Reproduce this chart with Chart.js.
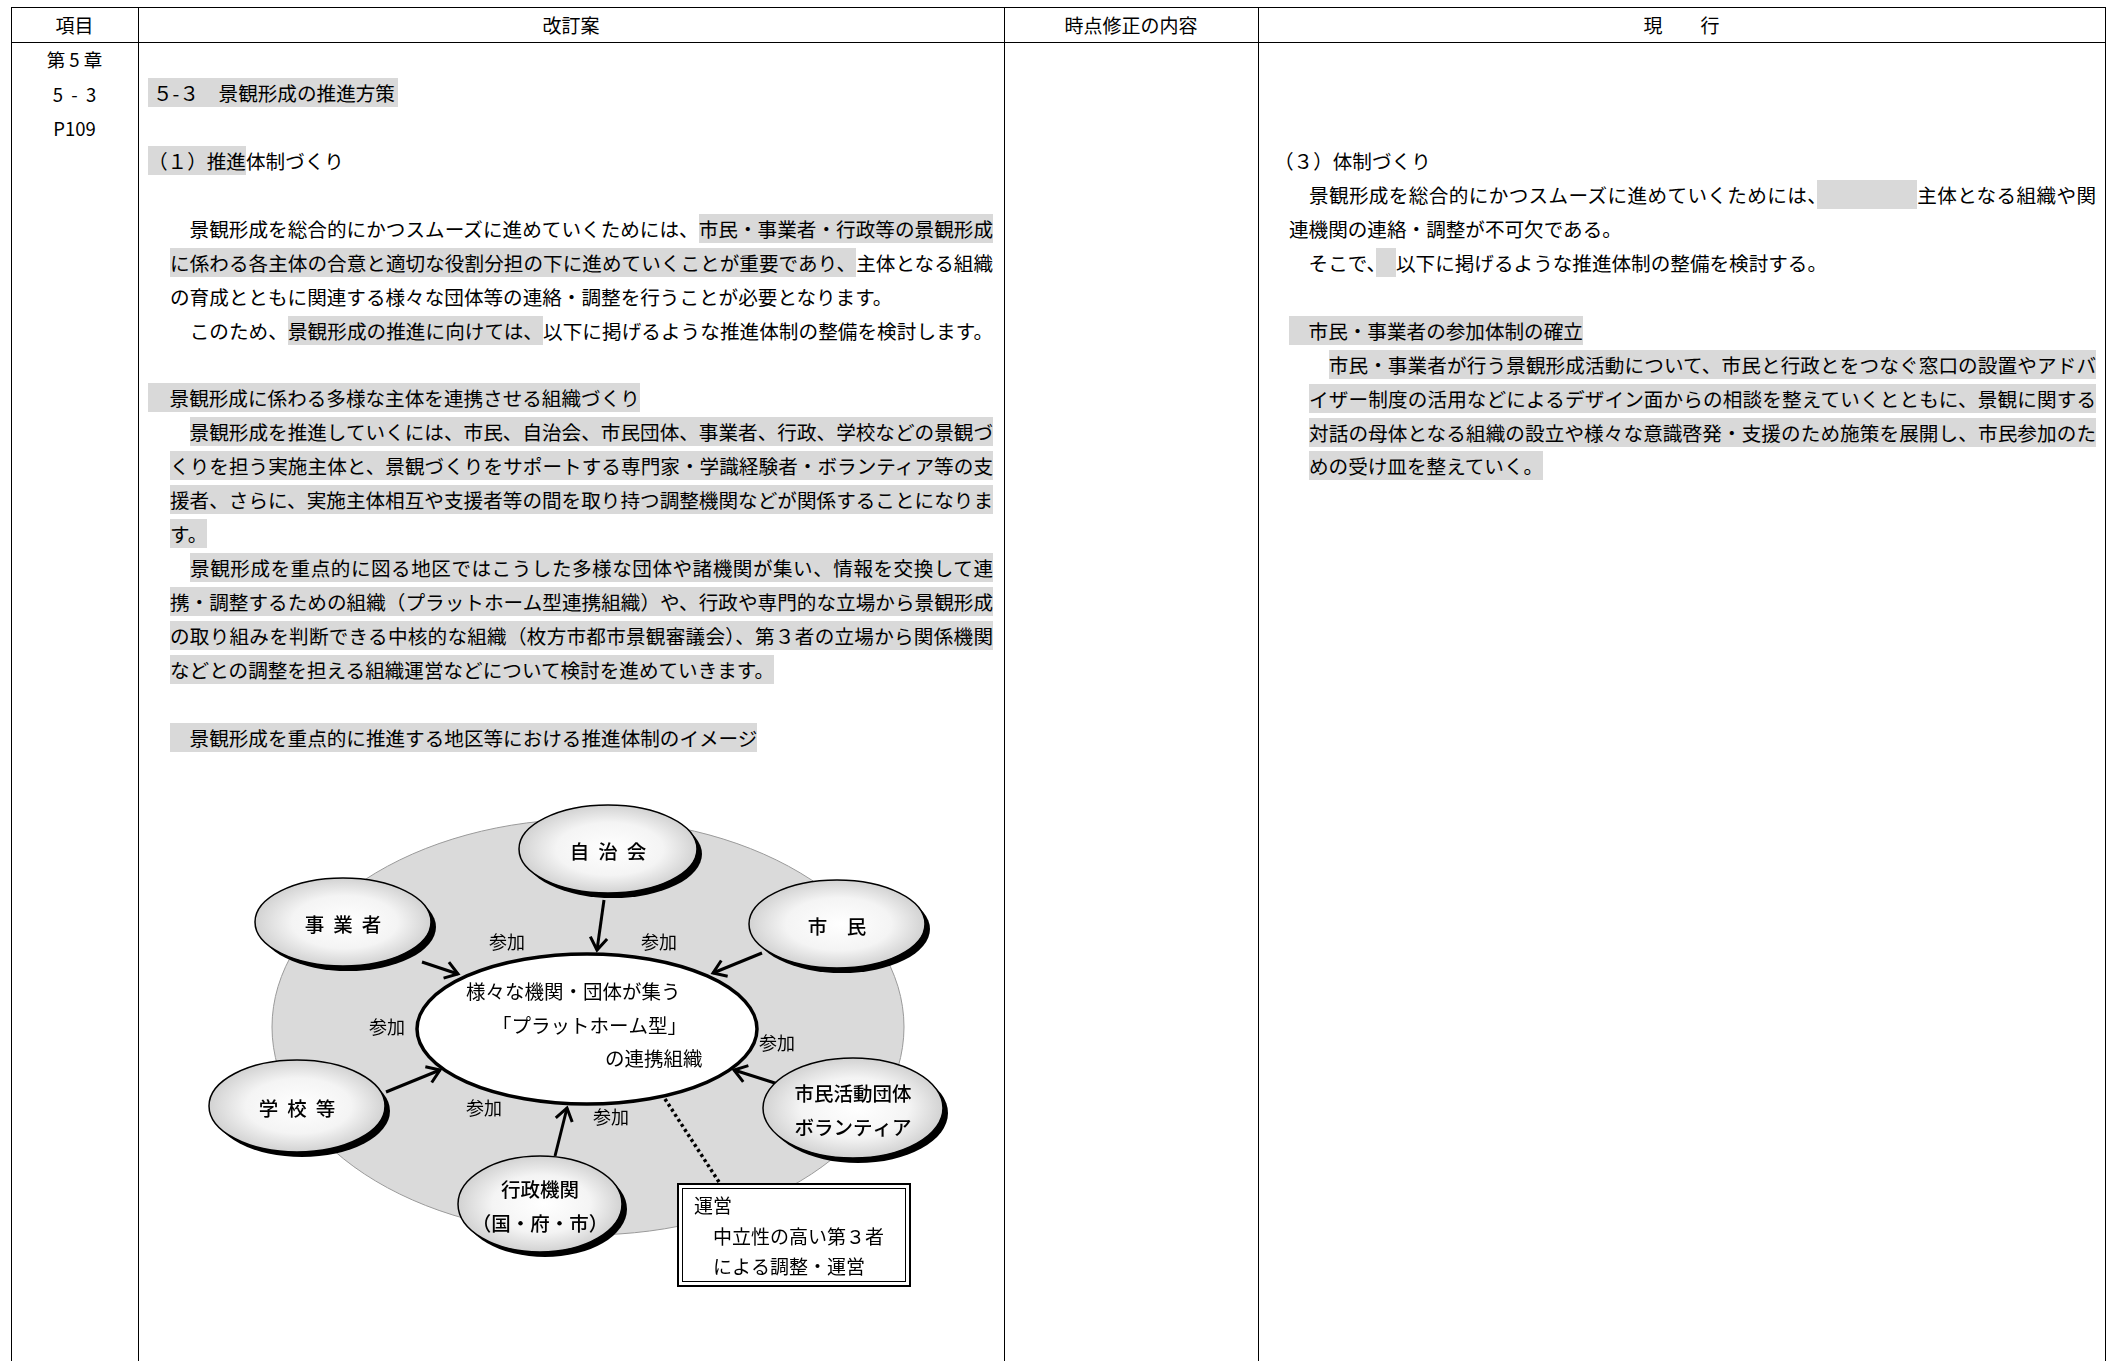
<!DOCTYPE html>
<html lang="ja">
  <head>
    <meta charset="UTF-8" />
    <title>景観形成の推進方策</title>
    <script src="https://cdn.jsdelivr.net/npm/chart.js"></script>
    <style>
      html,
      body {
        margin: 0;
        padding: 0;
        background: #fff;
      }

      body {
        position: relative;
        width: 2116px;
        height: 1361px;
        overflow: hidden;
        font-family: "Noto Sans CJK JP", sans-serif;
        color: #000;
      }

      .h { position: absolute; height: 1px; background: #000; left: 11px; width: 2095px; }
      .v { position: absolute; width: 1px; background: #000; top: 7px; bottom: 0; }

      .head {
        position: absolute;
        top: 8px;
        height: 34px;
        line-height: 34px;
        font-size: 19px;
        text-align: center;
      }

      .block {
        position: absolute;
        font-size: 19.6px;
        white-space: nowrap;
      }
      .block div { height: 33.95px; line-height: 33.95px; }
      .p { padding-left: 22px; }
      .q { padding-left: 15px; }
      .r { padding-left: 35px; }
      .j { text-align: justify; text-align-last: justify; }
      .m { background: #d9d9d9; }

      .item {
        position: absolute;
        left: 11px;
        width: 127px;
        top: 42px;
        font-size: 18.5px;
        text-align: center;
      }
      .item div { height: 34.5px; line-height: 34.5px; white-space: pre; }

      #diagram { position: absolute; left: 140px; top: 780px; }
    </style>
  </head>
  <body>
    <!-- 表の罫線 -->
    <div class="h" style="top: 7px"></div>
    <div class="h" style="top: 42px"></div>
    <div class="v" style="left: 11px"></div>
    <div class="v" style="left: 138px"></div>
    <div class="v" style="left: 1004px"></div>
    <div class="v" style="left: 1258px"></div>
    <div class="v" style="left: 2105px"></div>

    <div class="head" style="left: 11px; width: 127px">項目</div>
    <div class="head" style="left: 138px; width: 866px">改訂案</div>
    <div class="head" style="left: 1004px; width: 254px">時点修正の内容</div>
    <div class="head" style="left: 1258px; width: 847px">現　　行</div>

    <div class="item">
      <div>第 5 章</div>
      <div>5  -  3</div>
      <div>P109</div>
    </div>

    <!-- 改訂案 -->
    <div class="block" style="left: 148px; top: 76px; width: 845px">
      <div><span class="m" style="padding: 0 3px 0 5px">５-３　景観形成の推進方策</span></div>
      <div></div>
      <div><span class="m">（１）推進</span>体制づくり</div>
      <div></div>
      <div class="p j">　景観形成を総合的にかつスムーズに進めていくためには、<span class="m">市民・事業者・行政等の景観形成</span></div>
      <div class="p j"><span class="m">に係わる各主体の合意と適切な役割分担の下に進めていくことが重要であり、</span>主体となる組織</div>
      <div class="p">の育成とともに関連する様々な団体等の連絡・調整を行うことが必要となります。</div>
      <div class="p j">　このため、<span class="m">景観形成の推進に向けては、</span>以下に掲げるような推進体制の整備を検討します。</div>
      <div></div>
      <div><span class="m" style="padding-left: 2px">　景観形成に係わる多様な主体を連携させる組織づくり</span></div>
      <div class="p j">　<span class="m">景観形成を推進していくには、市民、自治会、市民団体、事業者、行政、学校などの景観づ</span></div>
      <div class="p j"><span class="m">くりを担う実施主体と、景観づくりをサポートする専門家・学識経験者・ボランティア等の支</span></div>
      <div class="p j"><span class="m">援者、さらに、実施主体相互や支援者等の間を取り持つ調整機関などが関係することになりま</span></div>
      <div class="p"><span class="m">す。</span></div>
      <div class="p j">　<span class="m">景観形成を重点的に図る地区ではこうした多様な団体や諸機関が集い、情報を交換して連</span></div>
      <div class="p j"><span class="m">携・調整するための組織（プラットホーム型連携組織）や、行政や専門的な立場から景観形成</span></div>
      <div class="p j"><span class="m">の取り組みを判断できる中核的な組織（枚方市都市景観審議会）、第３者の立場から関係機関</span></div>
      <div class="p"><span class="m">などとの調整を担える組織運営などについて検討を進めていきます。</span></div>
      <div></div>
      <div class="p"><span class="m">　景観形成を重点的に推進する地区等における推進体制のイメージ</span></div>
    </div>

    <!-- 現行 -->
    <div class="block" style="left: 1274px; top: 144px; width: 822px">
      <div>（３）体制づくり</div>
      <div class="q j">　景観形成を総合的にかつスムーズに進めていくためには、<span class="m">　　　　　</span>主体となる組織や関</div>
      <div class="q">連機関の連絡・調整が不可欠である。</div>
      <div class="q">　そこで、<span class="m">　</span>以下に掲げるような推進体制の整備を検討する。</div>
      <div></div>
      <div class="q"><span class="m">　市民・事業者の参加体制の確立</span></div>
      <div class="r j">　<span class="m">市民・事業者が行う景観形成活動について、市民と行政とをつなぐ窓口の設置やアドバ</span></div>
      <div class="r j"><span class="m">イザー制度の活用などによるデザイン面からの相談を整えていくとともに、景観に関する</span></div>
      <div class="r j"><span class="m">対話の母体となる組織の設立や様々な意識啓発・支援のため施策を展開し、市民参加のた</span></div>
      <div class="r"><span class="m">めの受け皿を整えていく。</span></div>
    </div>

    <canvas id="diagram" width="860" height="540"></canvas>

    <script>
      // 推進体制のイメージ図（図の座標系）
      const nodeLabels = [
        ["自治会"],
        ["事業者"],
        ["市　民"],
        ["学校等"],
        ["市民活動団体", "ボランティア"],
        ["行政機関", "（国・府・市）"],
      ];
      const nodeSpacing = [9, 9, 0, 9, 0, 0];
      const nodeX = [608, 343, 837, 297, 853, 540];
      const nodeY = [849, 922, 924, 1106, 1108, 1204];
      const nodeRx = [89, 88, 88, 88, 90, 82];
      const nodeRy = [44, 44, 44, 46, 50, 48];

      // 参加の矢印（始点 → 終点）
      const arrowX0 = [604, 422, 762, 386, 778, 555];
      const arrowY0 = [900, 962, 953, 1092, 1084, 1156];
      const arrowX1 = [597, 458, 713, 440, 734, 567];
      const arrowY1 = [950, 974, 973, 1070, 1070, 1108];
      const joinX = [507, 659, 387, 777, 484, 611];
      const joinY = [942, 942, 1027, 1043, 1108, 1117];
      const joinLabel = "参加";

      const platformLabels = ["様々な機関・団体が集う", "「プラットホーム型」", "の連携組織"];
      const platformLabelX = [466, 492, 605];
      const platformLabelY = [992, 1026, 1059];

      const manageLabels = ["運営", "　中立性の高い第３者", "　による調整・運営"];

      // 背景の楕円・中央の楕円・運営の枠
      const areaEllipse = { x: 588, y: 1027, rx: 316, ry: 208 };
      const platformEllipse = { x: 587, y: 1029, rx: 170, ry: 75 };
      const leaderLine = [{ x: 665, y: 1099 }, { x: 719, y: 1182 }];
      const manageBox = { x0: 677, y0: 1183, x1: 911, y1: 1287 };

      const FONT = '"Noto Sans CJK JP", sans-serif';

      function px(chart, vx, vy) {
        return { x: chart.scales.x.getPixelForValue(vx), y: chart.scales.y.getPixelForValue(vy) };
      }
      function radius(chart, cx, cy, rx, ry) {
        const s = chart.scales;
        return {
          rx: Math.abs(s.x.getPixelForValue(cx + rx) - s.x.getPixelForValue(cx)),
          ry: Math.abs(s.y.getPixelForValue(cy + ry) - s.y.getPixelForValue(cy)),
        };
      }
      function ellipsePath(ctx, x, y, rx, ry) {
        ctx.beginPath();
        ctx.ellipse(x, y, rx, ry, 0, 0, Math.PI * 2);
      }

      const diagramPlugin = {
        id: "diagram",
        beforeDatasetsDraw(chart) {
          const ctx = chart.ctx;
          ctx.save();
          let c = px(chart, areaEllipse.x, areaEllipse.y);
          let r = radius(chart, areaEllipse.x, areaEllipse.y, areaEllipse.rx, areaEllipse.ry);
          ellipsePath(ctx, c.x, c.y, r.rx, r.ry);
          ctx.fillStyle = "#dadada";
          ctx.fill();
          ctx.lineWidth = 1;
          ctx.strokeStyle = "#9a9a9a";
          ctx.stroke();

          c = px(chart, platformEllipse.x, platformEllipse.y);
          r = radius(chart, platformEllipse.x, platformEllipse.y, platformEllipse.rx, platformEllipse.ry);
          ellipsePath(ctx, c.x, c.y, r.rx, r.ry);
          ctx.fillStyle = "#fff";
          ctx.fill();
          ctx.lineWidth = 3.5;
          ctx.strokeStyle = "#000";
          ctx.stroke();
          ctx.restore();
        },
        afterDatasetsDraw(chart) {
          const ctx = chart.ctx;
          ctx.save();

          // 矢じり
          for (let i = 0; i < arrowX0.length; i++) {
            const pts = chart.getDatasetMeta(i + 1).data;
            const a = pts[0], b = pts[1];
            const ang = Math.atan2(b.y - a.y, b.x - a.x);
            const len = 15, spread = 0.6;
            ctx.beginPath();
            ctx.moveTo(b.x - len * Math.cos(ang - spread), b.y - len * Math.sin(ang - spread));
            ctx.lineTo(b.x, b.y);
            ctx.lineTo(b.x - len * Math.cos(ang + spread), b.y - len * Math.sin(ang + spread));
            ctx.lineWidth = 3;
            ctx.lineJoin = "miter";
            ctx.strokeStyle = "#000";
            ctx.stroke();
          }

          // 各主体の楕円
          const nodes = chart.getDatasetMeta(0).data;
          nodes.forEach((pt, i) => {
            const r = radius(chart, nodeX[i], nodeY[i], nodeRx[i], nodeRy[i]);
            ellipsePath(ctx, pt.x + 5, pt.y + 5, r.rx, r.ry);
            ctx.fillStyle = "#000";
            ctx.fill();

            ctx.save();
            ctx.translate(pt.x, pt.y);
            ctx.scale(1, r.ry / r.rx);
            const g = ctx.createRadialGradient(r.rx * 0.05, 0, 0, 0, 0, r.rx);
            g.addColorStop(0, "#ffffff");
            g.addColorStop(0.6, "#f4f4f4");
            g.addColorStop(1, "#d2d2d2");
            ellipsePath(ctx, 0, 0, r.rx, r.rx);
            ctx.fillStyle = g;
            ctx.fill();
            ctx.restore();

            ellipsePath(ctx, pt.x, pt.y, r.rx, r.ry);
            ctx.lineWidth = 1.5;
            ctx.strokeStyle = "#000";
            ctx.stroke();

            ctx.fillStyle = "#000";
            ctx.font = "500 19.5px " + FONT;
            ctx.letterSpacing = nodeSpacing[i] + "px";
            ctx.textAlign = "center";
            ctx.textBaseline = "middle";
            const lines = nodeLabels[i];
            lines.forEach((t, k) => {
              ctx.fillText(t, pt.x + nodeSpacing[i] / 2, pt.y + 3 + (k - (lines.length - 1) / 2) * 34);
            });
            ctx.letterSpacing = "0px";
          });

          // 参加
          ctx.font = "18px " + FONT;
          ctx.textAlign = "center";
          ctx.textBaseline = "middle";
          joinX.forEach((v, i) => {
            const p = px(chart, v, joinY[i]);
            ctx.fillText(joinLabel, p.x, p.y);
          });

          // 中央の楕円の文字
          ctx.font = "19.5px " + FONT;
          ctx.textAlign = "left";
          platformLabels.forEach((t, i) => {
            const p = px(chart, platformLabelX[i], platformLabelY[i]);
            ctx.fillText(t, p.x, p.y);
          });

          // 運営の枠（二重線）
          const b0 = px(chart, manageBox.x0, manageBox.y0);
          const b1 = px(chart, manageBox.x1, manageBox.y1);
          ctx.fillStyle = "#fff";
          ctx.fillRect(b0.x, b0.y, b1.x - b0.x, b1.y - b0.y);
          ctx.strokeStyle = "#000";
          ctx.lineWidth = 2;
          ctx.strokeRect(b0.x + 1, b0.y + 1, b1.x - b0.x - 2, b1.y - b0.y - 2);
          ctx.lineWidth = 1;
          ctx.strokeRect(b0.x + 5.5, b0.y + 5.5, b1.x - b0.x - 11, b1.y - b0.y - 11);
          ctx.fillStyle = "#000";
          ctx.font = "19px " + FONT;
          manageLabels.forEach((t, i) => {
            ctx.fillText(t, b0.x + 17, b0.y + 23 + i * 30.5);
          });

          ctx.restore();
        },
      };

      const datasets = [
        {
          label: "主体",
          data: nodeX.map((v, i) => ({ x: v, y: nodeY[i] })),
          pointRadius: 0,
          showLine: false,
        },
      ];
      arrowX0.forEach((v, i) => {
        datasets.push({
          label: joinLabel,
          data: [
            { x: v, y: arrowY0[i] },
            { x: arrowX1[i], y: arrowY1[i] },
          ],
          showLine: true,
          borderColor: "#000",
          borderWidth: 3,
          pointRadius: 0,
        });
      });
      datasets.push({
        label: "運営",
        data: leaderLine,
        showLine: true,
        borderColor: "#000",
        borderWidth: 3.5,
        borderDash: [3, 3],
        pointRadius: 0,
      });

      new Chart(document.getElementById("diagram"), {
        type: "scatter",
        data: { datasets: datasets },
        options: {
          responsive: false,
          animation: false,
          events: [],
          layout: { padding: 0 },
          plugins: { legend: { display: false }, tooltip: { enabled: false } },
          scales: {
            x: { type: "linear", display: false, min: 140, max: 1000 },
            y: { type: "linear", display: false, min: 780, max: 1320, reverse: true },
          },
        },
        plugins: [diagramPlugin],
      });
    </script>
  </body>
</html>
